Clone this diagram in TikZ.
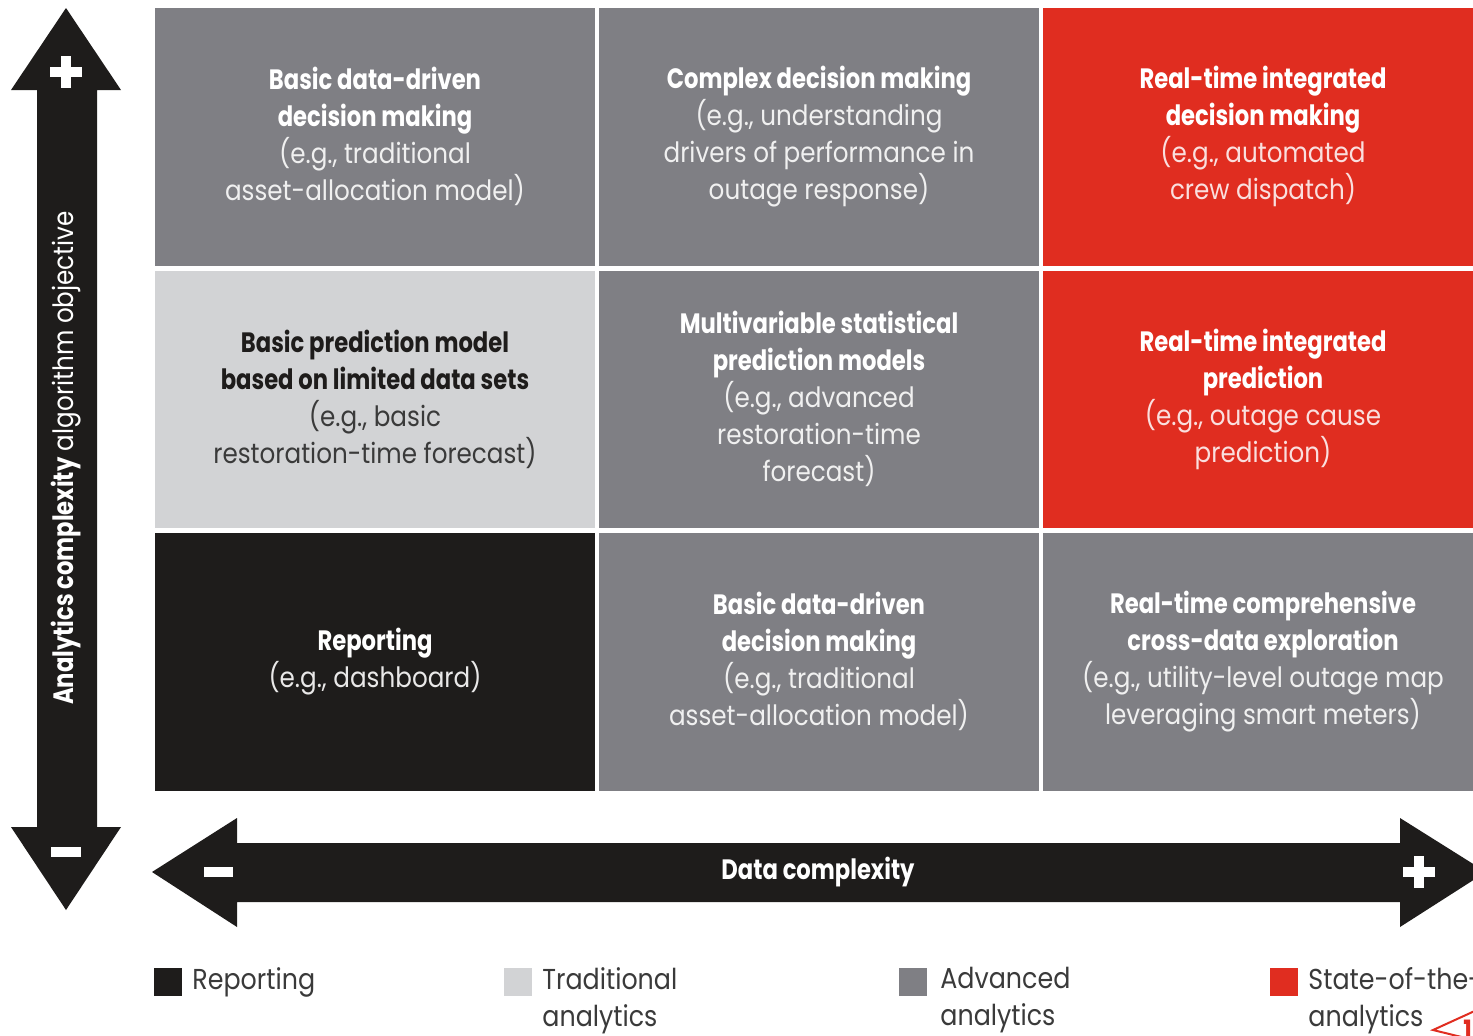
\documentclass[tikz,border=0pt]{standalone}
\usepackage{fontspec}
\setmainfont{Poppins}[UprightFeatures={FakeStretch=0.88}, BoldFeatures={FakeStretch=0.81}]
\usepackage{tikz}
\usetikzlibrary{positioning}

\definecolor{repblack}{HTML}{1E1C1B}
\definecolor{tradgray}{HTML}{D2D3D5}
\definecolor{advgray}{HTML}{7F7F84}
\definecolor{artred}{HTML}{E02D20}
\definecolor{legtxt}{HTML}{3A3A3A}
\newcommand{\eg}[1]{\textcolor{subc}{#1}}

\begin{document}
\begin{tikzpicture}[x=0.5pt, y=-0.5pt,
	txt/.style = {font=\fontsize{14}{18.5}\selectfont},
	cell/.style = {txt, minimum width=220pt, minimum height=128.75pt, inner sep=0pt, align=center},
	adv/.style = {cell, fill=advgray, text=white, execute at begin node={\colorlet{subc}{white!88!advgray}}},
	trad/.style = {cell, fill=tradgray, text=repblack, execute at begin node={\colorlet{subc}{legtxt}}},
	rep/.style = {cell, fill=repblack, text=white, execute at begin node={\colorlet{subc}{white!90!repblack}}},
	art/.style = {cell, fill=artred, text=white, execute at begin node={\colorlet{subc}{white!85!artred}}},
	sign/.style = {white, line width=5pt},
	key/.style = {minimum size=14pt, inner sep=0pt},
	keytext/.style = {font=\fontsize{14.4}{18.6}\selectfont, text=legtxt, align=left, inner sep=0pt, anchor=north west}]

\useasboundingbox (0,0) rectangle (1473,1035);

% grid
\node[adv] (c11) at (375,136.75) {\textbf{Basic data-driven}\\\textbf{decision making}\\\eg{(e.g., traditional}\\\eg{asset-allocation model)}};
\node[adv] (c21) at (819,136.75) {\textbf{Complex decision making}\\\eg{(e.g., understanding}\\\eg{drivers of performance in}\\\eg{outage response)}};
\node[art] (c31) at (1263,136.75) {\textbf{Real-time integrated}\\\textbf{decision making}\\\eg{(e.g., automated}\\\eg{crew dispatch)}};

\node[trad] (c12) at (375,399.25) {\textbf{Basic prediction model}\\\textbf{based on limited data sets}\\\eg{(e.g., basic}\\\eg{restoration-time forecast)}};
\node[adv] (c22) at (819,399.25) {\textbf{Multivariable statistical}\\\textbf{prediction models}\\\eg{(e.g., advanced}\\\eg{restoration-time}\\\eg{forecast)}};
\node[art] (c32) at (1263,399.25) {\textbf{Real-time integrated}\\\textbf{prediction}\\\eg{(e.g., outage cause}\\\eg{prediction)}};

\node[rep] (c13) at (375,661.75) {\textbf{Reporting}\\\eg{(e.g., dashboard)}};
\node[adv] (c23) at (819,661.75) {\textbf{Basic data-driven}\\\textbf{decision making}\\\eg{(e.g., traditional}\\\eg{asset-allocation model)}};
\node[adv] (c33) at (1263,661.75) {\textbf{Real-time comprehensive}\\\textbf{cross-data exploration}\\\eg{(e.g., utility-level outage map}\\\eg{leveraging smart meters)}};

% axes
\fill[repblack] (66,8) -- (121,90) -- (97,90) -- (97,827) -- (121,827) -- (66,910)
	-- (11,827) -- (37,827) -- (37,90) -- (11,90) -- cycle;
\fill[repblack] (152,872) -- (237,818) -- (237,843) -- (1400,843) -- (1400,818) -- (1486,872)
	-- (1400,927) -- (1400,902) -- (237,902) -- (237,927) -- cycle;

\draw[sign] (50,72) -- (82,72) (66,56) -- (66,88);
\draw[sign] (51,852) -- (81,852);
\draw[sign] (204,872) -- (233,872);
\draw[sign] (1403,872) -- (1435,872) (1419,856) -- (1419,888);

\node[txt, text=white, rotate=90] (yaxis) at (66,458) {\textbf{Analytics complexity} algorithm objective};
\node[txt, text=white] (xaxis) at (818,872) {\textbf{Data complexity}};

% legend
\node[key, fill=repblack] (k1) at (168,982) {};
\node[key, fill=tradgray] (k2) at (518,982) {};
\node[key, fill=advgray] (k3) at (913,982) {};
\node[key, fill=artred] (k4) at (1284,982) {};
\node[keytext] (t1) at (192,967) {Reporting};
\node[keytext] (t2) at (542,967) {Traditional\\analytics};
\node[keytext] (t3) at (940,967) {Advanced\\analytics};
\node[keytext] (t4) at (1308,967) {State-of-the-art\\analytics};

\draw[artred, line width=1pt] (1490,1004) -- (1433,1030) -- (1490,1044);
\node[txt, text=artred, anchor=west, inner sep=0pt] (one) at (1463,1030) {\textbf{1}};
\end{tikzpicture}
\end{document}
